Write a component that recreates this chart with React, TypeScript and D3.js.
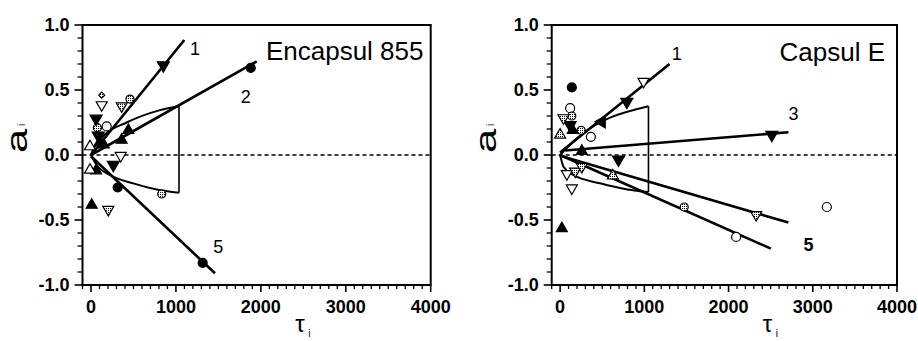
import React from 'react';
import * as d3 from 'd3';

type P = [number, number];
type Shape = 'circle' | 'up' | 'down' | 'left' | 'diamond';
type Fill = 'filled' | 'open' | 'dotted';

// ---- axes ----
const xDomain: P = [-100, 4000];
const yDomain: P = [-1, 1];
const xMajorTicks = [0, 1000, 2000, 3000, 4000];
const xTickLabels = ['0', '1000', '2000', '3000', '4000'];
const yMajorTicks = [1.0, 0.5, 0.0, -0.5, -1.0];
const yTickLabels = ['1.0', '0.5', '0.0', '-0.5', '-1.0'];
const xMinorStep = 100;
const yMinorStep = 0.1;

// ---- left panel: Encapsul 855 ----
const leftTitle = 'Encapsul 855';
const leftLine1: P[] = [[0, 0], [1099, 0.885]];
const leftLine2: P[] = [[0, 0], [1951, 0.72]];
const leftLine5: P[] = [[0, -0.01], [1460, -0.91]];
const leftUpperCurve: P[] = [[0, 0], [30, 0.05], [150, 0.15], [420, 0.25], [813, 0.345], [1036, 0.377]];
const leftLowerCurve: P[] = [[0, 0], [67, -0.077], [224, -0.154], [498, -0.218], [773, -0.265], [1036, -0.29]];
const leftBracket: P[] = [[1036, 0.377], [1036, -0.29]];
const leftLabels: [string, number, number][] = [['1', 1225, 0.82], ['2', 1823, 0.45], ['5', 1499, -0.705]];

const leftFilledCircle: P[] = [[1881, 0.67], [314, -0.25], [1315, -0.83]];
const leftOpenCircle: P[] = [[185, 0.22]];
const leftDottedCircle: P[] = [[459, 0.43], [75, 0.21], [833, -0.3]];
const leftFilledUp: P[] = [[361, 0.115], [440, 0.19], [106, 0.1], [8, -0.385], [60, -0.12], [150, 0.08]];
const leftOpenUp: P[] = [[-12, 0.065], [-12, -0.115]];
const leftFilledDown: P[] = [[852, 0.69], [60, 0.28], [263, -0.075], [85, 0.15]];
const leftOpenDown: P[] = [[126, 0.385], [350, -0.005]];
const leftDottedDown: P[] = [[361, 0.377], [204, -0.42]];
const leftDottedDiamond: P[] = [[126, 0.46]];

// ---- right panel: Capsul E ----
const rightTitle = 'Capsul E';
const rightLine1: P[] = [[0, 0.02], [1299, 0.7]];
const rightLine3: P[] = [[60, 0.035], [2711, 0.175]];
const rightLineA: P[] = [[20, -0.01], [2711, -0.52]];
const rightLine5: P[] = [[0, 0], [2502, -0.72]];
const rightUpperCurve: P[] = [[0, 0], [150, 0.1], [1049, 0.375]];
const rightLowerCurve: P[] = [[0, 0], [40, -0.09], [158, -0.154], [475, -0.218], [800, -0.265], [1049, -0.285]];
const rightBracket: P[] = [[1049, 0.375], [1049, -0.285]];
const rightLabels: [string, number, number][] = [['1', 1386, 0.783], ['3', 2771, 0.321], ['5', 2949, -0.69]];

const rightFilledCircle: P[] = [[139, 0.52]];
const rightOpenCircle: P[] = [[119, 0.36], [365, 0.14], [2090, -0.63], [3167, -0.4]];
const rightDottedCircle: P[] = [[139, 0.3], [1473, -0.4], [250, 0.19]];
const rightFilledUp: P[] = [[258, 0.03], [20, -0.565], [150, 0.19]];
const rightDottedUp: P[] = [[0, 0.155], [626, -0.16]];
const rightFilledDown: P[] = [[792, 0.41], [2514, 0.155], [693, -0.035], [119, 0.23]];
const rightOpenDown: P[] = [[990, 0.565], [80, -0.145], [139, -0.255]];
const rightDottedDown: P[] = [[40, 0.285], [178, -0.125], [258, -0.09], [2328, -0.46]];
const rightFilledLeft: P[] = [[495, 0.255]];

const FONT = '"Liberation Sans", Arial, Helvetica, sans-serif';

interface MarkerSet { pts: P[]; shape: Shape; fill: Fill; size?: number }

interface PanelDef {
  x0: number; x1: number; y0: number; y1: number;
  title: string; titleX: number; titleY: number;
  thickLines: P[][];
  curves: P[][];
  bracket: P[];
  labels: [string, number, number][];
  boldLabels: string[];
  markers: MarkerSet[];
}

function markerPath(shape: Shape, x: number, y: number, s: number): string {
  const h = s * 0.866;
  if (shape === 'up') return `M${x},${y - (2 * h) / 3}L${x + s / 2},${y + h / 3}L${x - s / 2},${y + h / 3}Z`;
  if (shape === 'down') return `M${x},${y + (2 * h) / 3}L${x + s / 2},${y - h / 3}L${x - s / 2},${y - h / 3}Z`;
  if (shape === 'left') return `M${x - (2 * h) / 3},${y}L${x + h / 3},${y - s / 2}L${x + h / 3},${y + s / 2}Z`;
  if (shape === 'diamond') return `M${x},${y - s / 2}L${x + s / 2},${y}L${x},${y + s / 2}L${x - s / 2},${y}Z`;
  return '';
}

function Panel({ d }: { d: PanelDef }) {
  const x = d3.scaleLinear().domain(xDomain).range([d.x0, d.x1]);
  const y = d3.scaleLinear().domain(yDomain).range([d.y1, d.y0]);
  const straight = d3.line<P>().x((p) => x(p[0])).y((p) => y(p[1]));
  const curved = d3.line<P>().x((p) => x(p[0])).y((p) => y(p[1])).curve(d3.curveMonotoneX);
  const xMinor = d3.range(xDomain[0], xDomain[1] + 1, xMinorStep).filter((v) => !xMajorTicks.includes(v));
  const yMinor = d3.range(-10, 11).map((v) => v * yMinorStep).filter((v) => !yMajorTicks.some((m) => Math.abs(m - v) < 1e-6));
  const axisX = x(xDomain[0]);
  const axisY = y(yDomain[0]);

  return (
    <g>
      {/* zero line */}
      <line x1={axisX} x2={d.x1} y1={y(0)} y2={y(0)} stroke="#000" strokeWidth={1.4} strokeDasharray="4,3" />
      {/* bracket */}
      <path d={straight(d.bracket) || ''} fill="none" stroke="#000" strokeWidth={1.6} />
      {d.curves.map((c, i) => (
        <path key={'c' + i} d={curved(c) || ''} fill="none" stroke="#000" strokeWidth={2} />
      ))}
      {d.thickLines.map((l, i) => (
        <path key={'l' + i} d={straight(l) || ''} fill="none" stroke="#000" strokeWidth={2.6} />
      ))}
      {/* markers */}
      {d.markers.map((m, mi) =>
        m.pts.map((p, pi) => {
          const cx = x(p[0]);
          const cy = y(p[1]);
          const s = m.size ?? (m.shape === 'circle' ? 9 : 11);
          const fill = m.fill === 'filled' ? '#000' : m.fill === 'open' ? '#fff' : 'url(#dots)';
          if (m.shape === 'circle')
            return <circle key={mi + '-' + pi} cx={cx} cy={cy} r={s / 2} fill={fill} stroke="#000" strokeWidth={1.2} />;
          return <path key={mi + '-' + pi} d={markerPath(m.shape, cx, cy, s)} fill={fill} stroke="#000" strokeWidth={1.2} strokeLinejoin="miter" />;
        })
      )}
      {/* frame */}
      <rect x={axisX} y={d.y0} width={d.x1 - axisX} height={axisY - d.y0} fill="none" stroke="#000" strokeWidth={2} />
      {/* x ticks */}
      {xMajorTicks.map((t, i) => (
        <g key={'xt' + t}>
          <line x1={x(t)} x2={x(t)} y1={axisY} y2={axisY + 7} stroke="#000" strokeWidth={1.6} />
          <text x={x(t)} y={axisY + 28} textAnchor="middle" fontSize={18} fontWeight="bold" fontFamily={FONT}>{xTickLabels[i]}</text>
        </g>
      ))}
      {xMinor.map((t) => (
        <line key={'xm' + t} x1={x(t)} x2={x(t)} y1={axisY} y2={axisY + 4} stroke="#000" strokeWidth={1.3} />
      ))}
      {/* y ticks */}
      {yMajorTicks.map((t, i) => (
        <g key={'yt' + t}>
          <line x1={axisX - 8} x2={axisX} y1={y(t)} y2={y(t)} stroke="#000" strokeWidth={1.6} />
          <text x={axisX - 13} y={y(t)} dy="0.35em" textAnchor="end" fontSize={18} fontWeight="bold" fontFamily={FONT}>{yTickLabels[i]}</text>
        </g>
      ))}
      {yMinor.map((t) => (
        <line key={'ym' + t.toFixed(2)} x1={axisX - 5} x2={axisX} y1={y(t)} y2={y(t)} stroke="#000" strokeWidth={1.3} />
      ))}
      {/* axis titles */}
      <g transform={`translate(${axisX - 56},${y(0) - 14}) rotate(-90)`}>
        <text x={0} y={0} textAnchor="middle" fontFamily={FONT} fontSize={30} transform="scale(1.45,1)">a</text>
        <text x={15} y={-2} fontFamily={FONT} fontSize={10}>i</text>
      </g>
      <text x={x(2500) - 8} y={332} fontFamily={FONT} fontSize={24}>τ</text>
      <text x={x(2500) + 5} y={337} fontFamily={FONT} fontSize={10}>i</text>
      {/* title */}
      <text x={d.titleX} y={d.titleY} textAnchor="end" fontFamily={FONT} fontSize={26}>{d.title}</text>
      {/* line labels */}
      {d.labels.map(([t, lx, ly]) => (
        <text key={'lab' + t} x={x(lx)} y={y(ly)} dy="0.35em" textAnchor="middle" fontFamily={FONT} fontSize={18}
          fontWeight={d.boldLabels.includes(t) ? 'bold' : 'normal'}>{t}</text>
      ))}
    </g>
  );
}

export default function App() {
  const left: PanelDef = {
    x0: 82.5, x1: 430.7, y0: 25, y1: 285,
    title: leftTitle, titleX: 423.5, titleY: 60,
    thickLines: [leftLine1, leftLine2, leftLine5],
    curves: [leftUpperCurve, leftLowerCurve],
    bracket: leftBracket,
    labels: leftLabels,
    boldLabels: [],
    markers: [
      { pts: leftFilledCircle, shape: 'circle', fill: 'filled' },
      { pts: leftOpenCircle, shape: 'circle', fill: 'open' },
      { pts: leftDottedCircle, shape: 'circle', fill: 'dotted', size: 8 },
      { pts: leftFilledUp, shape: 'up', fill: 'filled' },
      { pts: leftOpenUp, shape: 'up', fill: 'open' },
      { pts: leftFilledDown, shape: 'down', fill: 'filled', size: 12 },
      { pts: leftOpenDown, shape: 'down', fill: 'open' },
      { pts: leftDottedDown, shape: 'down', fill: 'dotted' },
      { pts: leftDottedDiamond, shape: 'diamond', fill: 'dotted', size: 6 },
    ],
  };
  const right: PanelDef = {
    x0: 551.7, x1: 897, y0: 25, y1: 285,
    title: rightTitle, titleX: 885, titleY: 61,
    thickLines: [rightLine1, rightLine3, rightLineA, rightLine5],
    curves: [rightUpperCurve, rightLowerCurve],
    bracket: rightBracket,
    labels: rightLabels,
    boldLabels: ['5'],
    markers: [
      { pts: rightFilledCircle, shape: 'circle', fill: 'filled' },
      { pts: rightOpenCircle, shape: 'circle', fill: 'open' },
      { pts: rightDottedCircle, shape: 'circle', fill: 'dotted', size: 8 },
      { pts: rightFilledUp, shape: 'up', fill: 'filled' },
      { pts: rightDottedUp, shape: 'up', fill: 'dotted' },
      { pts: rightFilledDown, shape: 'down', fill: 'filled', size: 12 },
      { pts: rightOpenDown, shape: 'down', fill: 'open' },
      { pts: rightDottedDown, shape: 'down', fill: 'dotted' },
      { pts: rightFilledLeft, shape: 'left', fill: 'filled', size: 12 },
    ],
  };
  return (
    <div style={{ position: 'absolute', left: 0, top: 0 }}>
      <svg width={918} height={341} style={{ display: 'block', background: '#fff' }}>
        <defs>
          <pattern id="dots" width={2} height={2} patternUnits="userSpaceOnUse">
            <rect width={2} height={2} fill="#fff" />
            <rect width={1} height={1} fill="#000" />
          </pattern>
        </defs>
        <rect width={918} height={341} fill="#fff" />
        <Panel d={left} />
        <Panel d={right} />
      </svg>
    </div>
  );
}
